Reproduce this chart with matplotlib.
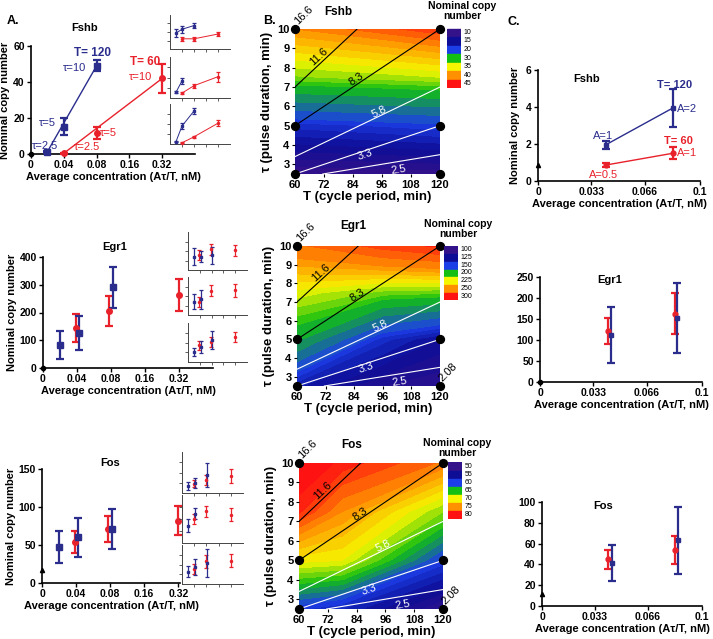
import matplotlib

matplotlib.use("Agg")
import matplotlib.pyplot as plt
import numpy as np
from matplotlib.colors import LinearSegmentedColormap, Normalize
from matplotlib.patches import Rectangle

plt.rcParams["font.family"] = ["Liberation Sans", "DejaVu Sans"]
plt.rcParams["font.weight"] = "bold"
plt.rcParams["axes.labelweight"] = "bold"

W, H = 713, 639
BLUE = "#2a2d8c"
RED = "#e8212b"

# ---------------- panel A data (x is categorical: 0, 0.04, 0.08, 0.16, 0.32) ----------------
A_XTICKLABELS = ["0", "0.04", "0.08", "0.16", "0.32"]

fshb_a_blue_x = [0.5, 1, 2]
fshb_a_blue_y = [1.3, 15.2, 49]
fshb_a_blue_err = [0.6, 4.6, 3]
fshb_a_red_x = [1, 2, 4]
fshb_a_red_y = [0.4, 11.9, 42]
fshb_a_red_err = [0.3, 3.3, 8]

egr1_a_blue_x = [0.5, 1.07, 2.05]
egr1_a_blue_y = [83, 126, 291]
egr1_a_blue_err = [50, 62, 74]
egr1_a_red_x = [0.97, 1.95, 4]
egr1_a_red_y = [144, 205, 263]
egr1_a_red_err = [52, 54, 58]

fos_a_blue_x = [0.5, 1.07, 2.05]
fos_a_blue_y = [47, 60, 71]
fos_a_blue_err = [21, 26, 26]
fos_a_red_x = [0.97, 1.95, 4]
fos_a_red_y = [54, 71, 82]
fos_a_red_err = [15, 17, 19]

# small insets next to each A panel (arbitrary 0-10 units)
fshb_ins_blue_x = [0.5, 1, 2]
fshb_ins_red_x = [1, 2, 4]
fshb_ins_blue_y = [[4.7, 5.8, 6.9], [1.4, 4.2], [0.6, 4.5, 8.25]]
fshb_ins_blue_err = [[1.2, 1.0, 0.8], [0.2, 0.8], [0.2, 0.8, 0.8]]
fshb_ins_red_y = [[3.0, 3.0, 4.4], [1.2, 3.0, 5.2], [0.3, 1.8, 5.2]]
fshb_ins_red_err = [[0.5, 0.5, 0.5], [0.3, 0.5, 1.2], [0.1, 0.3, 0.8]]

egr1_ins_blue_x = [0.5, 1.07, 2.05]
egr1_ins_red_x = [0.97, 1.95, 4]
egr1_ins_blue_y = [[3.5, 3.5, 3.9], [3.5, 4.2], [2.6, 3.9, 5.7]]
egr1_ins_blue_err = [[2.2, 1.5, 2.2], [1.9, 2.5], [1.1, 1.5, 2.3]]
egr1_ins_red_y = [[3.9, 5.4, 5.2], [3.5, 6.4, 6.5], [4.3, 5.2, 6.5]]
egr1_ins_red_err = [[1.3, 1.4, 1.4], [1.3, 1.5, 1.7], [1.2, 1.3, 1.3]]

fos_ins_blue_x = [0.5, 1.07, 2.05]
fos_ins_red_x = [0.97, 1.95, 4]
fos_ins_blue_y = [[1.7, 2.5, 4.4], [3.6, 6.1], [3.2, 4.4, 5.3]]
fos_ins_blue_err = [[0.9, 1.2, 3.0], [1.3, 1.2], [1.3, 2.0, 3.6]]
fos_ins_red_y = [[2.3, 3.1, 4.1], [5.0, 6.6, 5.9], [3.8, 5.8, 6.0]]
fos_ins_red_err = [[0.9, 1.2, 1.7], [1.1, 1.1, 1.4], [1.3, 1.7, 1.7]]

# ---------------- panel B data (copy number surface over T x tau) ----------------
TAU_GRID = [2.5, 5, 7.5, 10]
fshb_T = [60, 120]
fshb_Z = [[10, 10.5], [18, 19.5], [32.25, 33.75], [40, 43.5]]
egr1_T = [60, 96, 120]
egr1_Z = [[132.5, 112.5, 107.5], [190, 140, 123.75], [222.5, 210, 207.5], [260, 280, 290]]
fos_T = [60, 78, 120]
fos_Z = [[59, 57.5, 51], [70.5, 70, 59.5], [79, 75, 67.5], [82, 79.5, 76]]

fshb_legend = [10, 15, 20, 30, 35, 40, 45]
egr1_legend = [100, 125, 150, 200, 225, 250, 300]
fos_legend = [50, 55, 60, 65, 70, 75, 80]
LEGEND_COLORS = ["#34128a", "#0d0d96", "#1c3ee6", "#12bf12", "#f6f600", "#ff9000", "#ff1212"]

# iso tau/T lines (labelled in %)
iso_labels = ["11.6", "8.3", "5.8", "3.3", "2.5"]
iso_T0 = [60, 60, 60, 60, 71.5]
iso_T1 = [85.7, 120, 120, 120, 120]
iso_tau0 = [7, 5, 3.4, 2.5, 2.5]
iso_tau1 = [10, 10, 7, 5, 3.5]
iso_colors = ["black", "black", "white", "white", "white"]
iso_label_T = [70, 85.5, 95, 89, 103]
iso_label_dtau = [0.42, 0.26, 0.22, -0.22, -0.42]

grid_T = [60, 120, 60, 120, 60, 120]
grid_tau = [10, 10, 5, 5, 2.5, 2.5]

# ---------------- panel C data ----------------
fshb_c_blue_x = [0.0417, 0.0833]
fshb_c_blue_y = [1.95, 3.95]
fshb_c_blue_err = [0.2, 1.05]
fshb_c_red_x = [0.0417, 0.0833]
fshb_c_red_y = [0.86, 1.5]
fshb_c_red_err = [0.1, 0.33]

egr1_c_blue_x = [0.0438, 0.0848]
egr1_c_blue_y = [112, 152]
egr1_c_blue_err = [67, 83]
egr1_c_red_x = [0.0422, 0.0833]
egr1_c_red_y = [121, 163]
egr1_c_red_err = [31, 49]

fos_c_blue_x = [0.0435, 0.0852]
fos_c_blue_y = [41.5, 63]
fos_c_blue_err = [17.5, 32]
fos_c_red_x = [0.0414, 0.0833]
fos_c_red_y = [45, 54]
fos_c_red_err = [9, 13.5]

C_XTICKS = [0, 0.033, 0.066, 0.1]
C_XTICKLABELS = ["0", "0.033", "0.066", "0.1"]

XLABEL = "Average concentration (A\u03c4/T, nM)"
YLABEL = "Nominal copy number"

fig = plt.figure(figsize=(W / 100, H / 100), dpi=100)


def px_axes(x0, y0, x1, y1):
    return fig.add_axes([x0 / W, 1 - y1 / H, (x1 - x0) / W, (y1 - y0) / H])


def ftext(x, y, s, **kw):
    fig.text(x / W, 1 - y / H, s, **kw)


def xy_axes_style(ax, lw=1.2, size=7.5):
    for side in ("top", "right"):
        ax.spines[side].set_visible(False)
    for side in ("left", "bottom"):
        ax.spines[side].set_linewidth(lw)
    ax.tick_params(direction="out", length=3, width=1, labelsize=size, pad=1.5)


def err(ax, x, y, e, color, marker, ms=4, lw=1.6, cap=3):
    ax.errorbar(x, y, yerr=e, fmt=marker, color=color, ms=ms, elinewidth=lw,
                capthick=lw, capsize=cap, lw=0, clip_on=False, zorder=4)


# ================= panel A =================
a_specs = [
    dict(box=(31, 46, 195, 154), ylim=(0, 60), yticks=[0, 20, 40, 60], xmax=5,
         blue=(fshb_a_blue_x, fshb_a_blue_y, fshb_a_blue_err),
         red=(fshb_a_red_x, fshb_a_red_y, fshb_a_red_err), fit=True,
         zero=(0, "o"), title=(85, 28, "Fshb")),
    dict(box=(43, 257, 213, 368), ylim=(0, 400), yticks=[0, 100, 200, 300, 400], xmax=5,
         blue=(egr1_a_blue_x, egr1_a_blue_y, egr1_a_blue_err),
         red=(egr1_a_red_x, egr1_a_red_y, egr1_a_red_err), fit=False,
         zero=(0, "o"), title=(115, 247, "Egr1")),
    dict(box=(42, 469, 180, 583), ylim=(0, 150), yticks=[0, 50, 100, 150], xmax=4.05,
         blue=(fos_a_blue_x, fos_a_blue_y, fos_a_blue_err),
         red=(fos_a_red_x, fos_a_red_y, fos_a_red_err), fit=False,
         zero=(17, "^"), title=(110, 463, "Fos")),
]

for spec in a_specs:
    ax = px_axes(*spec["box"])
    xy_axes_style(ax)
    ax.set_xlim(0, spec["xmax"])
    ax.set_ylim(*spec["ylim"])
    ax.set_yticks(spec["yticks"])
    ax.set_xticks(range(len(A_XTICKLABELS)))
    ax.set_xticklabels(A_XTICKLABELS)
    ax.set_xlabel(XLABEL, fontsize=8, labelpad=1)
    ax.set_ylabel(YLABEL, fontsize=8, labelpad=2)
    bx, by, be = spec["blue"]
    rx, ry, re = spec["red"]
    if spec["fit"]:
        ax.plot([bx[0], bx[-1]], [by[0], by[-1]], color=BLUE, lw=1, zorder=3)
        ax.plot([rx[0], rx[-1]], [ry[0], ry[-1]], color=RED, lw=1, zorder=3)
    err(ax, rx, ry, re, RED, "o")
    err(ax, bx, by, be, BLUE, "s")
    ax.plot([0], [spec["zero"][0]], marker=spec["zero"][1], color="black", ms=3,
            clip_on=False, zorder=5)
    tx, ty, ts = spec["title"]
    ftext(tx, ty, ts, fontsize=8, ha="center", va="center")
    if spec["fit"]:
        ax.text(1.86, 56, "T= 120", color=BLUE, fontsize=8.5, ha="center", va="center")
        ax.text(1.34, 48, "\u03c4=10", color=BLUE, fontsize=8, fontweight="normal", ha="center", va="center")
        ax.text(0.49, 17, "\u03c4=5", color=BLUE, fontsize=8, fontweight="normal", ha="center", va="center")
        ax.text(0.43, 4.4, "\u03c4=2.5", color=BLUE, fontsize=8, fontweight="normal", ha="center", va="center")
        ax.text(3.48, 51, "T= 60", color=RED, fontsize=8.5, ha="center", va="center")
        ax.text(3.33, 42.8, "\u03c4=10", color=RED, fontsize=8, fontweight="normal", ha="center", va="center")
        ax.text(2.35, 11.7, "\u03c4=5", color=RED, fontsize=8, fontweight="normal", ha="center", va="center")
        ax.text(1.71, 3.9, "\u03c4=2.5", color=RED, fontsize=8, fontweight="normal", ha="center", va="center")

# insets
ins_specs = [
    (170, 230, [(15, 49), (57, 98), (104, 144)], fshb_ins_blue_x, fshb_ins_red_x,
     fshb_ins_blue_y, fshb_ins_blue_err, fshb_ins_red_y, fshb_ins_red_err, True),
    (188, 247, [(232, 270), (277, 315), (323, 362)], egr1_ins_blue_x, egr1_ins_red_x,
     egr1_ins_blue_y, egr1_ins_blue_err, egr1_ins_red_y, egr1_ins_red_err, False),
    (182, 243, [(452, 493), (495, 543), (545, 584)], fos_ins_blue_x, fos_ins_red_x,
     fos_ins_blue_y, fos_ins_blue_err, fos_ins_red_y, fos_ins_red_err, False),
]
for x0, x1, rows, ibx, irx, iby, ibe, iry, ire, lines in ins_specs:
    for k, (y0, y1) in enumerate(rows):
        ax = px_axes(x0, y0, x1, y1)
        ax.patch.set_alpha(0)
        for side in ("top", "right"):
            ax.spines[side].set_visible(False)
        for side in ("left", "bottom"):
            ax.spines[side].set_linewidth(0.7)
            ax.spines[side].set_color("#444444")
        ax.set_xlim(0, 5)
        ax.set_ylim(0, 10)
        ax.set_xticks([1, 2, 3, 4])
        ax.set_yticks([2.5, 5, 7.5])
        ax.tick_params(length=2, width=0.6, labelleft=False, labelbottom=False, colors="#444444")
        bxs = ibx[:len(iby[k])]
        rxs = irx[:len(iry[k])]
        if lines:
            ax.plot(bxs, iby[k], color=BLUE, lw=0.7)
            ax.plot(rxs, iry[k], color=RED, lw=0.7)
        err(ax, rxs, iry[k], ire[k], RED, "o", ms=1.5, lw=0.9, cap=1.5)
        err(ax, bxs, iby[k], ibe[k], BLUE, "s", ms=1.5, lw=0.9, cap=1.5)

# ================= panel B =================
b_specs = [
    dict(box=(295, 29, 440, 174), T=fshb_T, Z=fshb_Z, leg=fshb_legend, cbox=(447, 28, 461, 88),
         head=(462, 11), title=(338, 12, "Fshb"), corner208=False),
    dict(box=(297, 246, 440, 386), T=egr1_T, Z=egr1_Z, leg=egr1_legend, cbox=(444, 246, 458, 300),
         head=(458, 229), title=(353, 226, "Egr1"), corner208=True),
    dict(box=(299, 463, 443, 609), T=fos_T, Z=fos_Z, leg=fos_legend, cbox=(448, 462, 462, 519),
         head=(457, 448), title=(352, 445, "Fos"), corner208=True),
]

for spec in b_specs:
    ax = px_axes(*spec["box"])
    leg = spec["leg"]
    nodes = (np.array(leg, float) - leg[0]) / (leg[-1] - leg[0])
    cmap = LinearSegmentedColormap.from_list("copy", list(zip(nodes, LEGEND_COLORS)))
    cmap.set_over(LEGEND_COLORS[-1])
    cmap.set_under(LEGEND_COLORS[0])
    levels = np.interp(np.linspace(0, 6, 25), np.arange(7), leg)
    ax.contourf(spec["T"], TAU_GRID, spec["Z"], levels=levels, cmap=cmap,
                norm=Normalize(leg[0], leg[-1]), extend="both")
    ax.set_xlim(60, 120)
    ax.set_ylim(2.5, 10)
    for s in ax.spines.values():
        s.set_visible(False)
    ax.set_xticks([60, 72, 84, 96, 108, 120])
    ax.set_yticks(range(3, 11))
    ax.tick_params(direction="out", length=2.5, width=0.8, labelsize=8, pad=1.5)
    ax.set_xlabel("T (cycle period, min)", fontsize=9.5, labelpad=1)
    ax.set_ylabel("\u03c4 (pulse duration, min)", fontsize=9.5, labelpad=3)
    for lab, t0, t1, u0, u1, c, lt, dt in zip(iso_labels, iso_T0, iso_T1, iso_tau0, iso_tau1,
                                             iso_colors, iso_label_T, iso_label_dtau):
        ax.plot([t0, t1], [u0, u1], color=c, lw=0.8)
        p0 = ax.transData.transform((t0, u0))
        p1 = ax.transData.transform((t1, u1))
        ang = np.degrees(np.arctan2(p1[1] - p0[1], p1[0] - p0[0]))
        lu = u0 + (u1 - u0) * (lt - t0) / (t1 - t0) + dt
        ax.text(lt, lu, lab, color=c, fontsize=8, fontweight="normal", rotation=ang,
                rotation_mode="anchor", ha="center", va="center")
    ax.scatter(grid_T, grid_tau, s=32, color="black", clip_on=False, zorder=6)
    ax.annotate("16.6", (60, 10), xytext=(3, 2), textcoords="offset points", fontsize=8,
                fontweight="normal", rotation=45, rotation_mode="anchor", ha="left", va="bottom")
    if spec["corner208"]:
        ax.annotate("2.08", (120, 2.5), xytext=(3, 2), textcoords="offset points", fontsize=8,
                    fontweight="normal", rotation=45, rotation_mode="anchor", ha="left", va="bottom")
    tx, ty, ts = spec["title"]
    ftext(tx, ty, ts, fontsize=8.5, ha="center", va="center")
    hx, hy = spec["head"]
    ftext(hx, hy, "Nominal copy\nnumber", fontsize=7.5, ha="center", va="center", linespacing=1.1)

    # discrete colour key
    cax = px_axes(*spec["cbox"])
    cax.set_axis_off()
    cax.set_xlim(0, 1)
    cax.set_ylim(0, len(leg))
    for i, (v, col) in enumerate(zip(leg, LEGEND_COLORS)):
        yb = len(leg) - 1 - i
        cax.add_patch(Rectangle((0, yb + 0.06), 1, 0.88, color=col))
        cax.text(1.2, yb + 0.5, str(v), fontsize=5, fontweight="normal", va="center", ha="left")

# ================= panel C =================
c_specs = [
    dict(box=(538, 70, 700, 181), ylim=(0, 6), yticks=[0, 2, 4, 6],
         blue=(fshb_c_blue_x, fshb_c_blue_y, fshb_c_blue_err),
         red=(fshb_c_red_x, fshb_c_red_y, fshb_c_red_err), fit=True,
         zero=(0.86, "^"), title=(587, 79, "Fshb"), ylabel=True),
    dict(box=(540, 277, 702, 382), ylim=(0, 250), yticks=[0, 50, 100, 150, 200, 250],
         blue=(egr1_c_blue_x, egr1_c_blue_y, egr1_c_blue_err),
         red=(egr1_c_red_x, egr1_c_red_y, egr1_c_red_err), fit=False,
         zero=(0, "o"), title=(610, 280, "Egr1"), ylabel=False),
    dict(box=(542, 502, 702, 606), ylim=(0, 100), yticks=[0, 20, 40, 60, 80, 100],
         blue=(fos_c_blue_x, fos_c_blue_y, fos_c_blue_err),
         red=(fos_c_red_x, fos_c_red_y, fos_c_red_err), fit=False,
         zero=(11.5, "^"), title=(603, 506, "Fos"), ylabel=False),
]
for spec in c_specs:
    ax = px_axes(*spec["box"])
    xy_axes_style(ax)
    ax.set_xlim(0, 0.1)
    ax.set_ylim(*spec["ylim"])
    ax.set_yticks(spec["yticks"])
    ax.set_xticks(C_XTICKS)
    ax.set_xticklabels(C_XTICKLABELS)
    ax.set_xlabel(XLABEL, fontsize=8, labelpad=1)
    if spec["ylabel"]:
        ax.set_ylabel(YLABEL, fontsize=8, labelpad=4)
    bx, by, be = spec["blue"]
    rx, ry, re = spec["red"]
    if spec["fit"]:
        ax.plot(bx, by, color=BLUE, lw=1, zorder=3)
        ax.plot(rx, ry, color=RED, lw=1, zorder=3)
    err(ax, rx, ry, re, RED, "o", ms=3.5)
    err(ax, bx, by, be, BLUE, "s", ms=3.5)
    ax.plot([0], [spec["zero"][0]], marker=spec["zero"][1], color="black", ms=3,
            clip_on=False, zorder=5)
    tx, ty, ts = spec["title"]
    ftext(tx, ty, ts, fontsize=8, ha="center", va="center")
    if spec["fit"]:
        ax.text(0.0846, 5.2, "T= 120", color=BLUE, fontsize=8, ha="center", va="center")
        ax.text(0.0858, 3.9, "A=2", color=BLUE, fontsize=8, fontweight="normal", ha="left", va="center")
        ax.text(0.0403, 2.45, "A=1", color=BLUE, fontsize=8, fontweight="normal", ha="center", va="center")
        ax.text(0.0864, 2.16, "T= 60", color=RED, fontsize=8, ha="center", va="center")
        ax.text(0.0858, 1.5, "A=1", color=RED, fontsize=8, fontweight="normal", ha="left", va="center")
        ax.text(0.0403, 0.32, "A=0.5", color=RED, fontsize=8, fontweight="normal", ha="center", va="center")

# panel letters
ftext(7, 21, "A.", fontsize=9, ha="left", va="center")
ftext(263, 21, "B.", fontsize=9, ha="left", va="center")
ftext(508, 22, "C.", fontsize=9, ha="left", va="center")

fig.savefig("out.png", dpi=100)
